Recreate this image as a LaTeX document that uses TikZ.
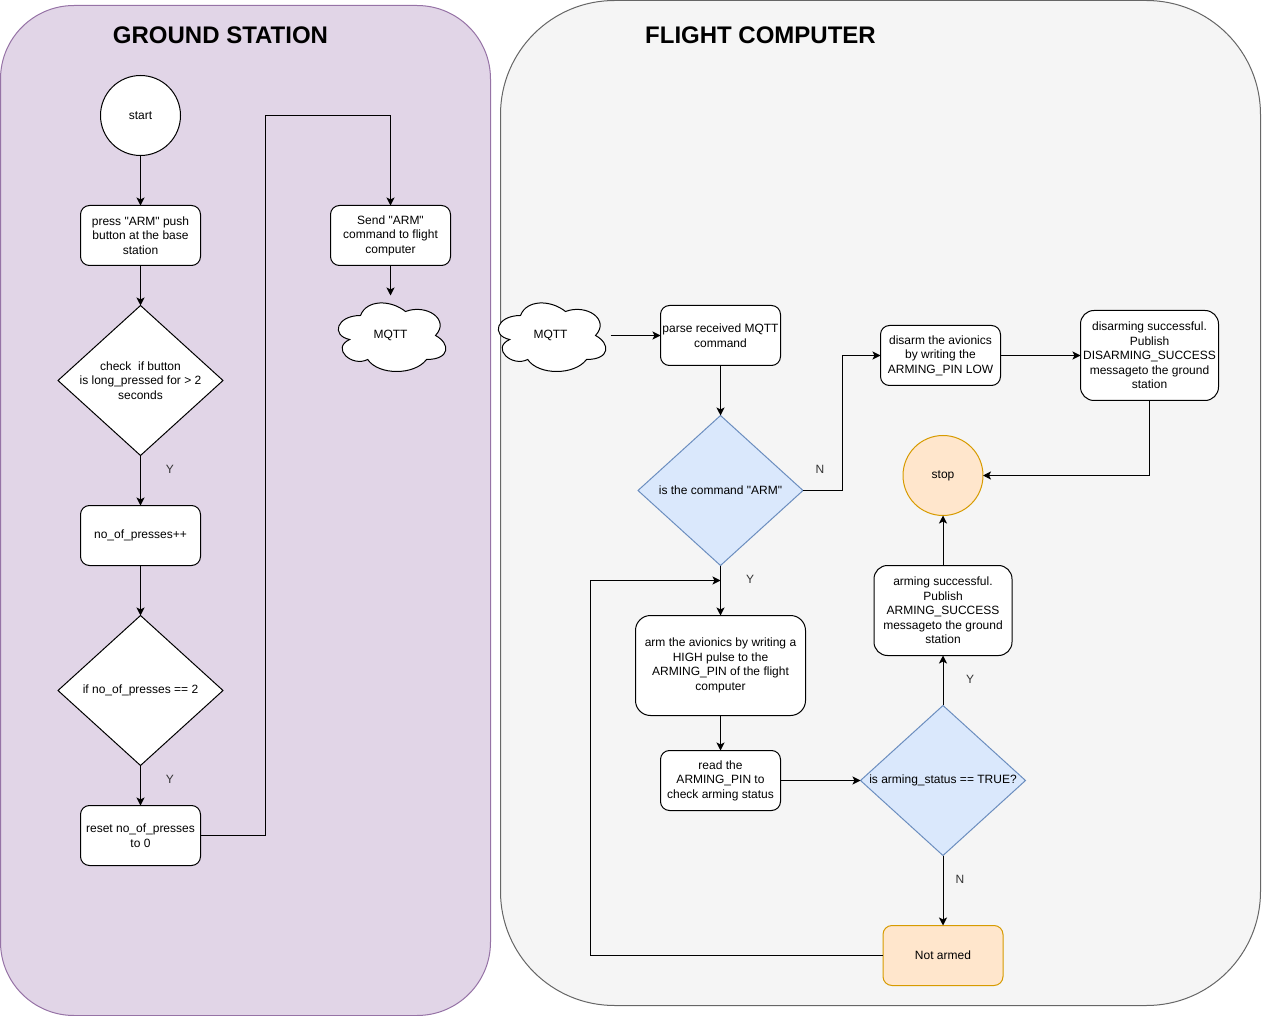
\documentclass[tikz,border=0pt]{standalone}
\usepackage{fontspec}
\usepackage{xcolor}
\setmainfont{Liberation Sans}[Ligatures=TeXOff]
\usetikzlibrary{arrows.meta,positioning,shapes.geometric}
\definecolor{fcpurple}{HTML}{E1D5E7}
\definecolor{fcpurpleline}{HTML}{9673A6}
\definecolor{fcgray}{HTML}{F5F5F5}
\definecolor{fcgrayline}{HTML}{666666}
\definecolor{fcblue}{HTML}{DAE8FC}
\definecolor{fcblueline}{HTML}{6C8EBF}
\definecolor{fcorange}{HTML}{FFE6CC}
\definecolor{fcorangeline}{HTML}{D79B00}
\tikzset{
  panel/.style={rectangle, draw, line width=1pt, outer sep=0pt},
  title/.style={font=\fontsize{24}{28}\selectfont\bfseries, inner sep=0pt},
  box/.style={rectangle, rounded corners=9pt, draw=black, line width=1pt, fill=white, align=center, minimum width=120pt, minimum height=60pt, inner sep=0pt, outer sep=0pt},
  bigbox/.style={box, rounded corners=13.5pt, minimum width=138pt, minimum height=90pt},
  terminal/.style={circle, draw=black, line width=1pt, fill=white, align=center, minimum size=80pt, inner sep=0pt, outer sep=0pt},
  decision/.style={diamond, aspect=1, draw=black, line width=1pt, fill=white, minimum width=165pt, minimum height=150pt, inner sep=0pt, outer sep=0pt},
  every label/.append style={align=center, inner sep=0pt},
  mqtt/.style={rectangle, minimum width=120pt, minimum height=80pt, inner sep=0pt, outer sep=0pt},
  mqttcloud/.pic={
    \draw[line width=1pt, fill=white]
      (30,20) .. controls (6,20) and (0,40) .. (19.2,44)
      .. controls (0,52.8) and (21.6,72) .. (37.2,64)
      .. controls (48,80) and (84,80) .. (96,64)
      .. controls (120,64) and (120,48) .. (105,40)
      .. controls (120,24) and (96,8) .. (75,16)
      .. controls (60,4) and (36,4) .. (30,20) -- cycle;
  },
  tag/.style={inner sep=0pt, text=black!80},
  arrow/.style={-{Stealth[length=8pt,width=8pt,inset=2pt]}, line width=1pt, draw=black}
}
\begin{document}
\begin{tikzpicture}[
  x=1pt, y=-1pt,
  every node/.append style={font=\fontsize{12}{14.5}\selectfont},
  label distance=0pt
]
\useasboundingbox (0,0) rectangle (1262,1016);
\node[panel, draw=fcpurpleline, fill=fcpurple, rounded corners=73.5pt, minimum width=490pt, minimum height=1010pt] (ground) at (245.5,510.5) {};
\node[panel, draw=fcgrayline, fill=fcgray, rounded corners=114pt, minimum width=760pt, minimum height=1005pt] (flight) at (880.5,503) {};
\node[title] (groundtitle) at (220.5,35) {GROUND STATION};
\node[title] (flighttitle) at (760.5,35) {FLIGHT COMPUTER};

\node[terminal] (start) at (140.5,115.5) {start};
\node[box, below=50pt of start] (press) {press "ARM" push\\button at the base\\station};
\node[decision, below=40pt of press, label={center:check\ \ if button\\is long\_pressed for > 2\\seconds}] (longpress) {};
\node[box, below=50pt of longpress] (count) {no\_of\_presses++};
\node[decision, below=50pt of count, label={center:if no\_of\_presses == 2}] (twice) {};
\node[box, below=40pt of twice] (reset) {reset no\_of\_presses\\to 0};
\node[box] (send) at (390.5,235.5) {Send "ARM"\\command to flight\\computer};
\pic at (330.5,295.5) {mqttcloud};
\node[mqtt] (mqttout) at (390.5,335.5) {MQTT};

\pic at (490.5,295.5) {mqttcloud};
\node[mqtt] (mqttin) at (550.5,335.5) {MQTT};
\node[box] (parse) at (720.5,335.5) {parse received MQTT\\command};
\node[decision, fill=fcblue, draw=fcblueline, below=50pt of parse, label={center:is the command "ARM"}] (isarm) {};
\node[box, rounded corners=15pt, minimum width=170pt, minimum height=100pt, below=50pt of isarm] (arm) {arm the avionics by writing a\\HIGH pulse to the\\ARMING\_PIN of the flight\\computer};
\node[box, below=35pt of arm] (readpin) {read the\\ARMING\_PIN to\\check arming status};
\coordinate (rejoin) at (720.5,580.5);
\node[decision, fill=fcblue, draw=fcblueline, label={center:is arming\_status == TRUE?}] (isarmed) at (943,780.5) {};
\node[bigbox, above=50pt of isarmed] (armok) {arming successful.\\Publish\\ARMING\_SUCCESS\\messageto the ground\\station};
\node[terminal, fill=fcorange, draw=fcorangeline, above=50pt of armok] (stop) {stop};
\node[box, fill=fcorange, draw=fcorangeline, below=70pt of isarmed] (notarmed) {Not armed};
\node[box] (disarm) at (940.5,355.5) {disarm the avionics\\by writing the\\ARMING\_PIN LOW};
\node[bigbox] (disarmok) at (1149.5,355.5) {disarming successful.\\Publish\\DISARMING\_SUCCESS\\messageto the ground\\station};

\node[tag] (tagone) at (170,469.5) {Y};
\node[tag] (tagtwo) at (170,779.5) {Y};
\node[tag] (tagthree) at (820,469.5) {N};
\node[tag] (tagfour) at (750,579.5) {Y};
\node[tag] (tagfive) at (970,679.5) {Y};
\node[tag] (tagsix) at (960,879.5) {N};

\draw[arrow] (start) -- (press);
\draw[arrow] (press) -- (longpress);
\draw[arrow] (longpress) -- (count);
\draw[arrow] (count) -- (twice);
\draw[arrow] (twice) -- (reset);
\draw[arrow] (reset.east) -- (265.5,835.5) |- (send.north |- start) -- (send.north);
\draw[arrow] (send) -- (mqttout);
\draw[arrow] (mqttin) -- (parse);
\draw[arrow] (parse) -- (isarm);
\draw[arrow] (isarm) -- (arm);
\draw[arrow] (arm) -- (readpin);
\draw[arrow] (readpin) -- (isarmed);
\draw[arrow] (isarmed) -- (armok);
\draw[arrow] (armok) -- (stop);
\draw[arrow] (isarmed) -- (notarmed);
\draw[arrow] (notarmed.west) -- (590.5,955.5) |- (rejoin);
\draw[arrow] (isarm.east) -- (842,490.5) |- (disarm.west);
\draw[arrow] (disarm) -- (disarmok);
\draw[arrow] (disarmok.south) |- (stop.east);
\end{tikzpicture}
\end{document}
